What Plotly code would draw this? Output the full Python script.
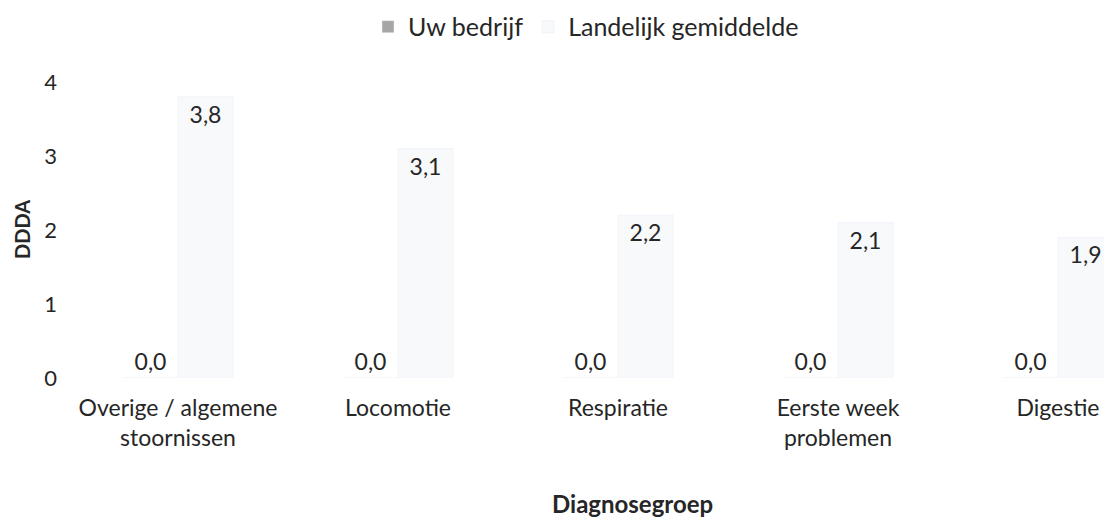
import plotly.graph_objects as go

categories = ["Overige / algemene<br>stoornissen", "Locomotie", "Respiratie",
              "Eerste week<br>problemen", "Digestie"]
uw_bedrijf = [0.0, 0.0, 0.0, 0.0, 0.0]
landelijk = [3.8, 3.1, 2.2, 2.1, 1.9]
y_ticks = [0, 1, 2, 3, 4]

FONT = "Lato"
TXT = "#262626"

def fmt(v):
    return f"{v:.1f}".replace(".", ",")

fig = go.Figure()
fig.add_trace(go.Bar(
    name="Uw bedrijf", x=categories, y=uw_bedrijf,
    marker=dict(color="#a6a6a6"),
    text=[fmt(v) for v in uw_bedrijf], textposition="outside",
    textfont=dict(family=FONT, size=23, color=TXT), cliponaxis=False,
))
fig.add_trace(go.Bar(
    name="Landelijk gemiddelde", x=categories, y=landelijk,
    marker=dict(color="#f8f9fb"),
    text=[fmt(v) for v in landelijk], textposition="inside",
    insidetextanchor="end",
    textfont=dict(family=FONT, size=23, color=TXT),
))

fig.update_layout(
    width=1096, height=511,
    margin=dict(l=60, r=0, t=74, b=141, autoexpand=False),
    paper_bgcolor="white", plot_bgcolor="white",
    font=dict(family=FONT, size=22, color=TXT),
    barmode="group", bargap=0.5, bargroupgap=0.0,
    legend=dict(orientation="h", x=0.5, xanchor="center", y=1.186, yanchor="middle",
                font=dict(family=FONT, size=25, color=TXT),
                traceorder="normal", itemwidth=30),
    showlegend=True,
    annotations=[
        dict(text="<b>Diagnosegroep</b>", xref="paper", yref="paper",
             x=0.545, y=-0.423, xanchor="center", yanchor="middle", showarrow=False,
             font=dict(family=FONT, size=24, color=TXT)),
        dict(text="<b>DDDA</b>", xref="paper", yref="paper", textangle=-90,
             x=-0.0444, y=0.5, xanchor="center", yanchor="middle", showarrow=False,
             font=dict(family=FONT, size=20, color=TXT)),
    ],
)
fig.update_xaxes(
    range=[-0.5, 4.209], showgrid=False, showline=False, zeroline=False,
    tickfont=dict(family=FONT, size=23, color=TXT), ticklabelstandoff=14,
    automargin=False,
)
fig.update_yaxes(
    range=[0, 4], tickvals=y_ticks, showgrid=False, showline=False, zeroline=False,
    tickfont=dict(family=FONT, size=22, color=TXT), ticklabelstandoff=10,
    automargin=False,
)

fig.write_html("out.html")
